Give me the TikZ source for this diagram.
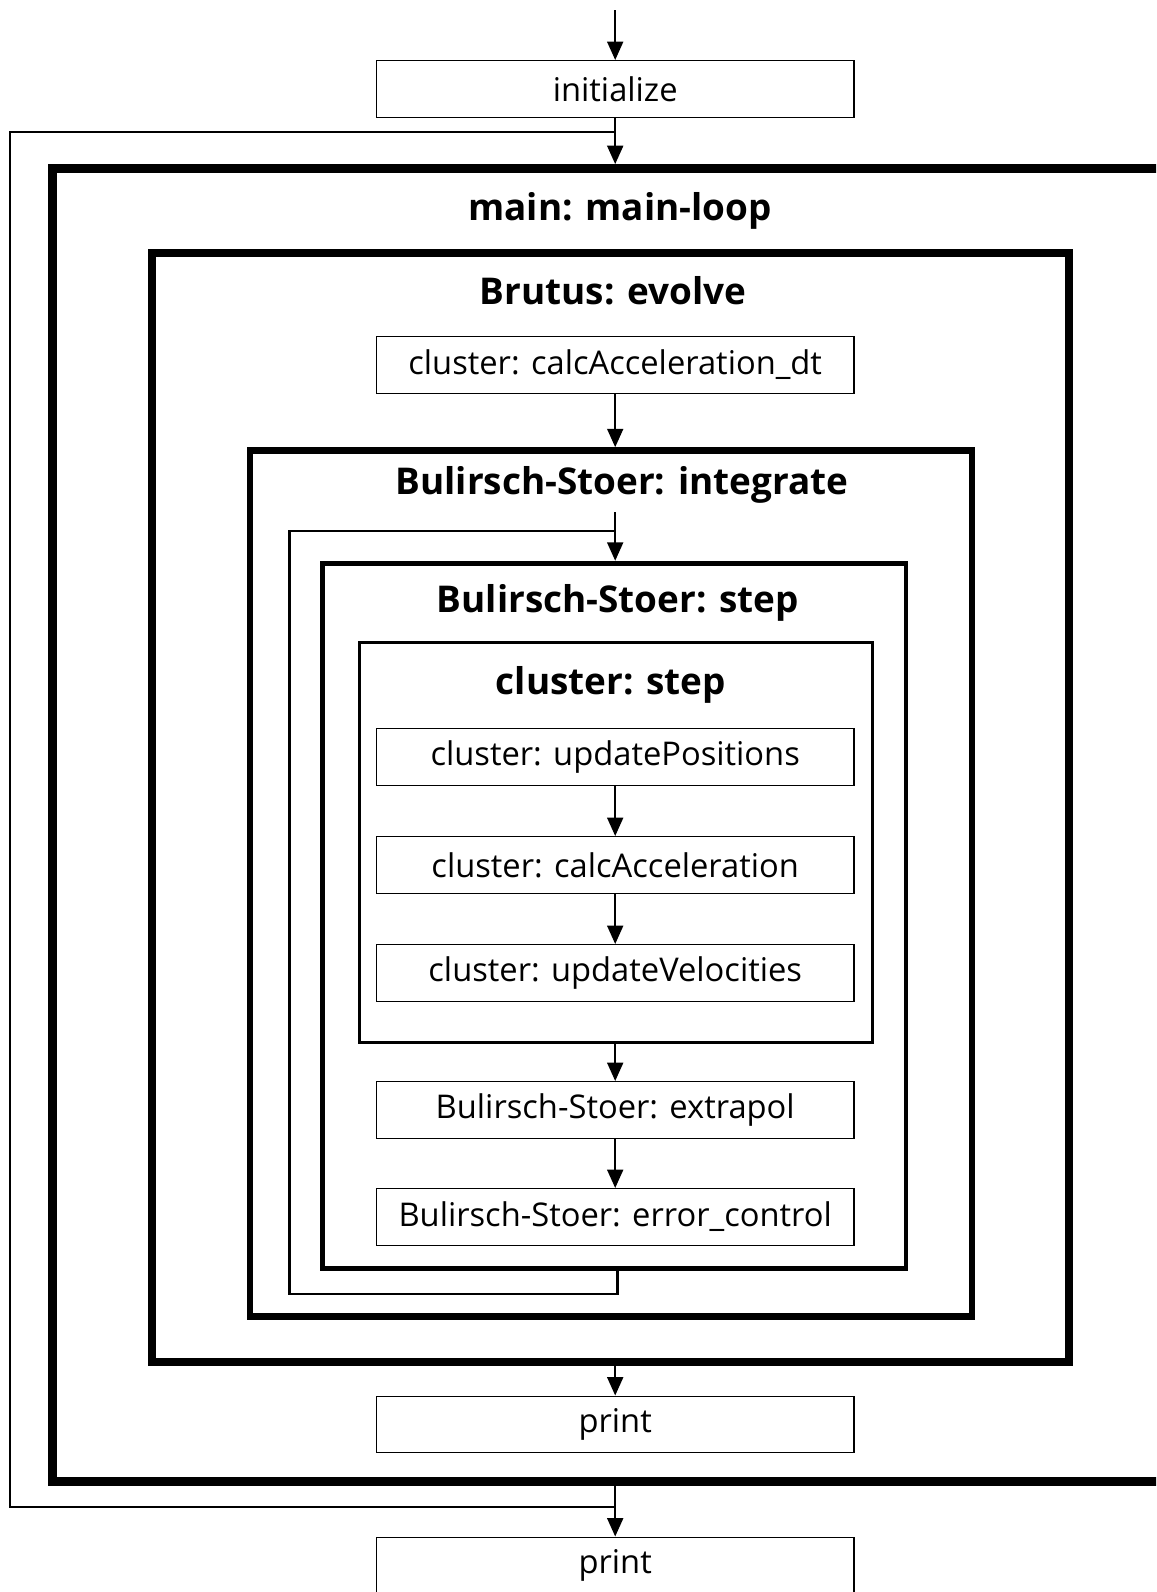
\documentclass[tikz,border=0pt]{standalone}
\usepackage{fontspec}
\setmainfont{Open Sans}
\usetikzlibrary{arrows.meta}

\begin{document}
\begin{tikzpicture}[x=0.02cm, y=-0.02cm,
        callbox/.style={draw, line width=0.8pt, minimum width=9.56cm, minimum height=1.13cm, inner sep=0pt, font=\fontsize{18.6}{22}\selectfont},
        region/.style={draw, rectangle, inner sep=0pt},
        heading/.style={anchor=base, font=\fontsize{21}{25}\selectfont\bfseries},
        link/.style={line width=1.4pt, -{Triangle[length=10.5pt, width=9pt]}},
        wire/.style={line width=1.2pt}]
        \useasboundingbox (0, 0) rectangle (1156, 1592);
        \clip (0, 0) rectangle (1156, 1592);

        \node[region, line width=5.1pt, minimum width=23.96cm, minimum height=26.27cm] (mainloop) at (651, 825.25) {};
        \node[region, line width=4.5pt, minimum width=18.35cm, minimum height=22.18cm] (evolve) at (610.35, 807.8) {};
        \node[region, line width=3.7pt, minimum width=14.44cm, minimum height=17.32cm] (integrate) at (611.1, 883.4) {};
        \node[region, line width=2.7pt, minimum width=11.67cm, minimum height=14.11cm] (bsstep) at (614.25, 915.85) {};
        \node[region, line width=1.8pt, minimum width=10.26cm, minimum height=8cm] (clstep) at (615.9, 842.6) {};

        \node[heading] (tmain) at (620, 220.5) { main: main-loop };
        \node[heading] (tevolve) at (613, 304) { Brutus: evolve };
        \node[heading] (tintegrate) at (622, 494.5) { Bulirsch-Stoer: integrate };
        \node[heading] (tbsstep) at (618, 612.5) { Bulirsch-Stoer: step };
        \node[heading] (tclstep) at (611, 694.5) { cluster: step };

        \node[callbox] (init) at (615.2, 89) { initialize };
        \node[callbox] (accdt) at (615.2, 365) { cluster: calcAcceleration\_dt };
        \node[callbox] (updpos) at (615.2, 757) { cluster: updatePositions };
        \node[callbox] (calcacc) at (615.2, 865) { cluster: calcAcceleration };
        \node[callbox] (updvel) at (615.2, 973) { cluster: updateVelocities };
        \node[callbox] (extrapol) at (615.2, 1110) { Bulirsch-Stoer: extrapol };
        \node[callbox] (errctrl) at (615.2, 1217) { Bulirsch-Stoer: error\_control };
        \node[callbox] (print) at (615.2, 1424.5) { print };
        \node[callbox] (lastprint) at (615.2, 1565.5) { print };

        \coordinate (entry) at (615.2, 10);
        \coordinate (outersplit) at (615.2, 132);
        \coordinate (outerback) at (615.2, 1507);
        \coordinate (intin) at (615.2, 512);
        \coordinate (innersplit) at (615.2, 531);
        \coordinate (innerback) at (617.5, 1293.7);

        \draw[link] (entry) -- (init);
        \draw[link] (init) -- (init |- mainloop.north);
        \draw[wire] (outersplit) -- ++(-605, 0) |- (outerback);
        \draw[link] (accdt) -- (accdt |- integrate.north);
        \draw[link] (intin) -- (intin |- bsstep.north);
        \draw[wire] (innersplit) -- ++(-325.7, 0) |- (innerback) -- (innerback |- bsstep.south);
        \draw[link] (updpos) -- (calcacc);
        \draw[link] (calcacc) -- (updvel);
        \draw[link] (extrapol |- clstep.south) -- (extrapol);
        \draw[link] (extrapol) -- (errctrl);
        \draw[link] (print |- evolve.south) -- (print);
        \draw[link] (lastprint |- mainloop.south) -- (lastprint);

    \end{tikzpicture}
\end{document}
